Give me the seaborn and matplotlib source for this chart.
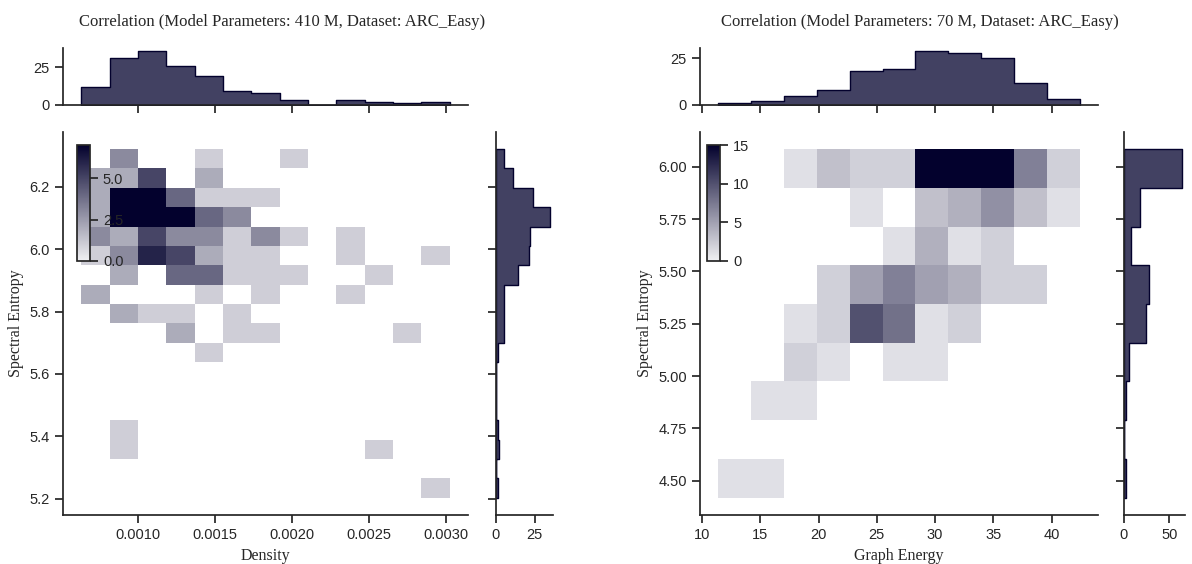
import numpy as np
import pandas as pd
import seaborn as sns
import matplotlib
matplotlib.use("Agg")
import matplotlib.pyplot as plt
from matplotlib.colors import LinearSegmentedColormap

# ---- left panel: 410 M model, Density vs Spectral Entropy ----
# cell counts, rows go from top (high entropy) to bottom, 13 density bins
dens_counts = [
    [0, 3, 0, 0, 1, 0, 0, 1, 0, 0, 0, 0, 0],
    [2, 2, 5, 0, 2, 0, 0, 0, 0, 0, 0, 0, 0],
    [2, 7, 8, 4, 1, 1, 1, 0, 0, 0, 0, 0, 0],
    [2, 8, 11, 7, 4, 3, 0, 0, 0, 0, 0, 0, 0],
    [3, 2, 5, 3, 3, 1, 3, 1, 0, 1, 0, 0, 0],
    [1, 3, 6, 5, 2, 1, 1, 0, 0, 1, 0, 0, 1],
    [0, 2, 0, 4, 4, 1, 1, 1, 0, 0, 1, 0, 0],
    [2, 0, 0, 0, 1, 0, 1, 0, 0, 1, 0, 0, 0],
    [0, 2, 1, 1, 0, 1, 0, 0, 0, 0, 0, 0, 0],
    [0, 0, 0, 2, 0, 1, 1, 0, 0, 0, 0, 1, 0],
    [0, 0, 0, 0, 1, 0, 0, 0, 0, 0, 0, 0, 0],
    [0, 0, 0, 0, 0, 0, 0, 0, 0, 0, 0, 0, 0],
    [0, 0, 0, 0, 0, 0, 0, 0, 0, 0, 0, 0, 0],
    [0, 0, 0, 0, 0, 0, 0, 0, 0, 0, 0, 0, 0],
    [0, 1, 0, 0, 0, 0, 0, 0, 0, 0, 0, 0, 0],
    [0, 1, 0, 0, 0, 0, 0, 0, 0, 0, 1, 0, 0],
    [0, 0, 0, 0, 0, 0, 0, 0, 0, 0, 0, 0, 0],
    [0, 0, 0, 0, 0, 0, 0, 0, 0, 0, 0, 0, 1],
]
dens_range = (0.000634, 0.003026)
dens_ent_range = (5.203, 6.321)

# ---- right panel: 70 M model, Graph Energy vs Spectral Entropy ----
energy_counts = [
    [0, 0, 1, 3, 2, 2, 15, 17, 15, 7, 2],
    [0, 0, 0, 0, 1, 0, 3, 4, 6, 3, 1],
    [0, 0, 0, 0, 0, 1, 4, 1, 2, 0, 0],
    [0, 0, 0, 2, 5, 7, 5, 4, 2, 2, 0],
    [0, 0, 1, 2, 10, 8, 1, 2, 0, 0, 0],
    [0, 0, 2, 1, 0, 1, 1, 0, 0, 0, 0],
    [0, 1, 1, 0, 0, 0, 0, 0, 0, 0, 0],
    [0, 0, 0, 0, 0, 0, 0, 0, 0, 0, 0],
    [1, 1, 0, 0, 0, 0, 0, 0, 0, 0, 0],
]
energy_range = (11.37, 42.43)
energy_ent_range = (4.420, 6.0844)

titles = ["Correlation (Model Parameters: 410 M, Dataset: ARC_Easy)",
          "Correlation (Model Parameters: 70 M, Dataset: ARC_Easy)"]
xlabels = ["Density", "Graph Energy"]

dark = "#03012d"
cmap = LinearSegmentedColormap.from_list("navy", ["#f0f0f3", dark])

sns.set_theme(style="ticks")
plt.rcParams["font.family"] = ["Liberation Sans", "DejaVu Sans"]
serif = ["Liberation Serif", "DejaVu Serif"]

W, H = 1192, 564
fig = plt.figure(figsize=(W / 100, H / 100), dpi=100)


def frac(x0, x1, y0, y1):
    # pixel box -> figure rect
    return [x0 / W, 1 - y1 / H, (x1 - x0) / W, (y1 - y0) / H]


def to_frame(counts, xr, yr):
    counts = np.array(counts)
    ny, nx = counts.shape
    xe = np.linspace(xr[0], xr[1], nx + 1)
    ye = np.linspace(yr[0], yr[1], ny + 1)
    xc = (xe[:-1] + xe[1:]) / 2
    yc = ((ye[:-1] + ye[1:]) / 2)[::-1]
    rows = []
    for i in range(ny):
        for j in range(nx):
            if counts[i, j] > 0:
                rows.append((xc[j], yc[i], counts[i, j]))
    return pd.DataFrame(rows, columns=["x", "y", "w"]), list(xe), list(ye)


def panel(counts, xr, yr, px, marg_px, vmax, cticks, cbar_box, title, title_x,
          xlabel, top_ticks, right_ticks):
    df, xe, ye = to_frame(counts, xr, yr)
    ax = fig.add_axes(frac(px[0], px[1], 131.7, 515))
    ax_top = fig.add_axes(frac(px[0], px[1], 48, 105))
    ax_right = fig.add_axes(frac(marg_px[0], marg_px[1], 131.7, 515))
    cax = ax.inset_axes(cbar_box)

    sns.histplot(data=df, x="x", y="y", weights="w", bins=[xe, ye],
                 cmap=cmap, vmin=0, vmax=vmax, cbar=True, cbar_ax=cax,
                 cbar_kws=dict(ticks=cticks), ax=ax)
    sns.histplot(data=df, x="x", weights="w", bins=xe, element="step",
                 color=dark, ax=ax_top)
    sns.histplot(data=df, y="y", weights="w", bins=ye, element="step",
                 color=dark, ax=ax_right)

    xpad = (xr[1] - xr[0]) * 0.05
    ypad = (yr[1] - yr[0]) * 0.05
    ax.set_xlim(xr[0] - xpad, xr[1] + xpad)
    ax.set_ylim(yr[0] - ypad, yr[1] + ypad)
    ax_top.set_xlim(ax.get_xlim())
    ax_right.set_ylim(ax.get_ylim())
    ax_top.set_yticks(top_ticks)
    ax_right.set_xticks(right_ticks)
    ax_top.tick_params(labelbottom=False)
    ax_right.tick_params(labelleft=False)
    for a in (ax_top, ax_right):
        a.set_xlabel("")
        a.set_ylabel("")
    for a in (ax, ax_top, ax_right):
        sns.despine(ax=a)
        a.tick_params(labelsize=10.5)
    cax.tick_params(labelsize=10.5)

    ax.set_xlabel(xlabel, fontsize=11.5, family=serif)
    ax.set_ylabel("Spectral Entropy", fontsize=11.5, family=serif)
    fig.text(title_x / W, 1 - 25.5 / H, title, ha="center", va="baseline",
             fontsize=12, family=serif)


panel(dens_counts, dens_range, dens_ent_range, (63, 468), (496, 553), 7,
      [0, 2.5, 5], [0.035, 0.663, 0.031, 0.302], titles[0], 282, xlabels[0],
      [0, 25], [0, 25])
panel(energy_counts, energy_range, energy_ent_range, (700, 1098), (1124, 1185), 15,
      [0, 5, 10, 15], [0.018, 0.663, 0.032, 0.302], titles[1], 920, xlabels[1],
      [0, 25], [0, 50])

fig.savefig("out.png", dpi=100)
